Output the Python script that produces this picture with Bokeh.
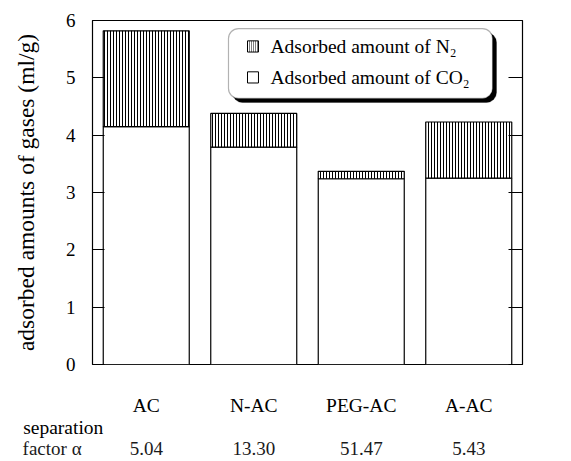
from bokeh.plotting import figure
from bokeh.models import (Range1d, LinearAxis, BoxAnnotation, FixedTicker,
                          ColumnDataSource)
from bokeh.core.properties import value
from bokeh.embed import file_html
from bokeh.resources import INLINE

samples = ["AC", "N-AC", "PEG-AC", "A-AC"]
co2 = [4.15, 3.79, 3.24, 3.25]
n2 = [1.67, 0.59, 0.13, 0.98]
sep_factor = ["5.04", "13.30", "51.47", "5.43"]
row_title_1 = "separation"
row_title_2 = "factor  \u03b1"
y_ticks = [0, 1, 2, 3, 4, 5, 6]

SERIF = "Liberation Serif"
NBSP = "\u00a0"

centers = [i + 0.5 for i in range(len(samples))]
src = ColumnDataSource(dict(x=centers, co2=co2, n2=n2))

p = figure(x_range=Range1d(0, len(samples)), y_range=Range1d(0, 6),
           width=571, height=461, output_backend="svg", toolbar_location=None,
           min_border_left=92, min_border_right=49, min_border_top=20, min_border_bottom=97,
           x_axis_location=None, y_axis_location=None)
p.grid.visible = False
p.outline_line_color = "black"
p.outline_line_width = 1.2
p.background_fill_color = "white"
p.border_fill_color = "white"

p.vbar_stack(["co2", "n2"], x="x", width=0.8, source=src,
             fill_color=["white", "white"], line_color="black", line_width=1.2,
             hatch_pattern=[" ", "|"], hatch_color="black", hatch_scale=3, hatch_weight=1)

# Y axis (left)
yl = LinearAxis(ticker=FixedTicker(ticks=y_ticks),
                axis_label="adsorbed amounts of gases (ml/g)")
yl.major_tick_in = 12
yl.major_tick_out = 0
yl.minor_tick_line_color = None
yl.axis_line_color = None
yl.major_label_standoff = 17
yl.major_label_text_font = SERIF
yl.major_label_text_font_size = "19px"
yl.major_label_text_color = "black"
yl.axis_label_text_font = SERIF
yl.axis_label_text_font_style = "normal"
yl.axis_label_text_font_size = "23.5px"
yl.axis_label_text_color = "black"
yl.axis_label_standoff = 24
p.add_layout(yl, "left")

# Right axis with inward ticks
yr = LinearAxis(ticker=FixedTicker(ticks=y_ticks))
yr.major_tick_in = 14
yr.major_tick_out = 0
yr.minor_tick_line_color = None
yr.axis_line_color = None
yr.major_label_text_font_size = "0px"
yr.major_label_text_color = None
p.add_layout(yr, "right")

# Category axis (+ first line of the row title, anchored at the frame's left edge)
cat_labels = {c: s for c, s in zip(centers, samples)}
cat_labels[0] = "\n" + row_title_1 + NBSP * 12
xa = LinearAxis(ticker=FixedTicker(ticks=[0] + centers), major_label_overrides=cat_labels)
xa.major_tick_line_color = None
xa.minor_tick_line_color = None
xa.axis_line_color = None
xa.major_label_standoff = 24
xa.major_label_text_font = SERIF
xa.major_label_text_font_size = "19.5px"
xa.major_label_text_color = "black"
xa.major_label_text_line_height = 1.08
p.add_layout(xa, "below")

# Separation factor axis (+ second line of the row title)
sep_labels = {c: s for c, s in zip(centers, sep_factor)}
sep_labels[0] = row_title_2 + NBSP * 16
xs = LinearAxis(ticker=FixedTicker(ticks=[0] + centers), major_label_overrides=sep_labels)
xs.major_tick_line_color = None
xs.minor_tick_line_color = None
xs.axis_line_color = None
xs.major_label_standoff = -10
xs.major_label_text_font = SERIF
xs.major_label_text_font_size = "19px"
xs.major_label_text_color = "#1a1a1a"
p.add_layout(xs, "below")

# Legend (drawn manually: rounded box with shadow)
shadow = BoxAnnotation(left=1.302, right=3.758, bottom=4.57, top=5.79,
                       fill_color="black", fill_alpha=1, line_color="black", border_radius=10,
                       level="underlay")
box = BoxAnnotation(left=1.265, right=3.721, bottom=4.64, top=5.86,
                    fill_color="white", fill_alpha=1, line_color="black", line_width=1.2,
                    border_radius=10, level="underlay")
p.add_layout(shadow)
p.add_layout(box)

p.quad(left=[1.442, 1.442], right=[1.544, 1.544], bottom=[5.45, 4.91], top=[5.645, 5.105],
       fill_color="white", line_color="black", line_width=1,
       hatch_pattern=["|", " "], hatch_color="black", hatch_scale=2, hatch_weight=1,
       level="overlay")
p.text(x=[1.656, 1.656], y=[5.547, 5.006],
       text=["Adsorbed amount of N\u2082", "Adsorbed amount of CO\u2082"],
       text_font=value(SERIF), text_font_size="19.5px",
       text_baseline="middle", text_color="black", level="overlay")

open("out.html", "w").write(file_html(p, INLINE))
